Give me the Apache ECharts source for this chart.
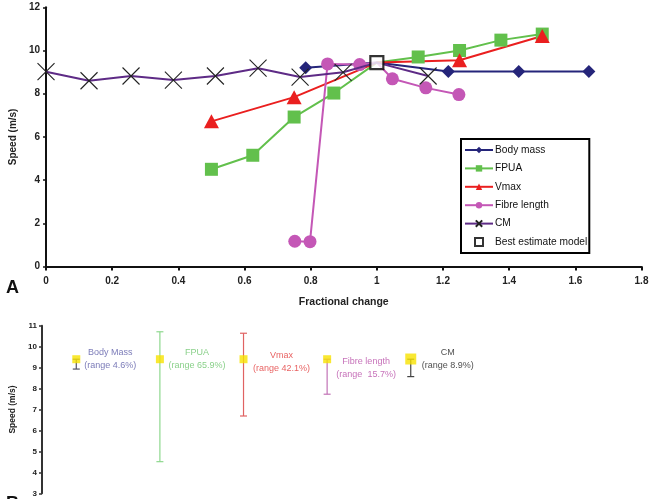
<!DOCTYPE html>
<html><head><meta charset="utf-8">
<script src="https://cdn.jsdelivr.net/npm/echarts@6/dist/echarts.min.js"></script>
<style>html,body{margin:0;padding:0;background:#fff}#c{width:654px;height:499px}</style>
</head><body><div id="c"></div>
<script>
// ---- Panel A data ----
const bodyX  = [0.785, 1.0, 1.216, 1.429, 1.641];
const bodyY  = [9.2, 9.44, 9.03, 9.03, 9.03];
const fpuaX  = [0.5, 0.625, 0.75, 0.87, 1.0, 1.125, 1.25, 1.375, 1.5];
const fpuaY  = [4.5, 5.15, 6.92, 8.03, 9.44, 9.7, 10.0, 10.48, 10.76];
const vmaxX  = [0.5, 0.75, 1.0, 1.25, 1.5];
const vmaxY  = [6.72, 7.84, 9.44, 9.55, 10.67];
const fibreX = [0.752, 0.798, 0.851, 0.948, 1.0, 1.047, 1.148, 1.248];
const fibreY = [1.17, 1.15, 9.38, 9.35, 9.44, 8.69, 8.27, 7.96];
const cmX    = [0, 0.13, 0.257, 0.385, 0.512, 0.641, 0.768, 0.898, 1.0, 1.155];
const cmY    = [9.02, 8.6, 8.82, 8.63, 8.82, 9.18, 8.77, 8.99, 9.44, 8.82];
const bestX  = [1.0];
const bestY  = [9.44];
const seriesNames = ['Body mass', 'FPUA', 'Vmax', 'Fibre length', 'CM', 'Best estimate model'];
const xTicks = [0, 1.8, 0.2];
const yTicks = [0, 12, 2];

// ---- Panel B data ----
const bPos    = [1, 2, 3, 4, 5];
const bNames  = ['Body Mass', 'FPUA', 'Vmax', 'Fibre length', 'CM'];
const bRanges = ['(range 4.6%)', '(range 65.9%)', '(range 42.1%)', '(range  15.7%)', '(range 8.9%)'];
const bMid    = [9.4, 9.4, 9.4, 9.4, 9.41];
const bLow    = [8.93, 4.51, 6.69, 7.73, 8.57];
const bHigh   = [9.4, 10.71, 10.64, 9.4, 9.4];
const bYTicks = [3, 11, 1];

const FONT = 'Liberation Sans, Arial, sans-serif';
const bestPt = [bestX[0], bestY[0]];
function mk(xs, ys) {
  return xs.map((x, i) => (x === bestPt[0] && ys[i] === bestPt[1])
    ? { value: [x, ys[i]], symbol: 'none' } : [x, ys[i]]);
}
const xPath = 'path://M0,0L10,10M10,0L0,10';
const sqPath = 'path://M0,0H10V10H0Z';

const bColors   = ['#5a5aa6', '#6cc46c', '#e23a3a', '#b84ea8', '#222222'];
const barColors = ['#555566', '#8ed88e', '#e06262', '#c273b6', '#444444'];
const bLabelOff = [[34, 0], [37, 0], [38, 2.5], [39, 9], [37, 0]];

const chart = echarts.init(document.getElementById('c'), null, { renderer: 'canvas' });
chart.setOption({
  animation: false,
  backgroundColor: '#fff',
  textStyle: { fontFamily: FONT },
  graphic: [
    { type: 'text', left: 6, top: 279, style: { text: 'A', font: 'bold 18px ' + FONT, fill: '#111' } },
    { type: 'text', left: 6, top: 495, style: { text: 'B', font: 'bold 18px ' + FONT, fill: '#111' } }
  ],
  legend: {
    data: seriesNames.map((n, i) => i === 5 ? { name: n, icon: sqPath } : { name: n }),
    orient: 'vertical',
    left: 461, top: 139,
    padding: [4, 2, 4, 3],
    borderColor: '#000', borderWidth: 2,
    itemWidth: 28, itemHeight: 8, itemGap: 4.4,
    symbolKeepAspect: true,
    textStyle: { fontSize: 10.2, lineHeight: 14, color: '#111', fontFamily: FONT, padding: [0, 0, 0, -3] },
    selectedMode: false
  },
  grid: [
    { left: 36, right: 12.5, top: 7.3, bottom: 232.5 },
    { left: 42, right: 20, top: 325.7, bottom: 5.7 }
  ],
  xAxis: [
    { gridIndex: 0, type: 'value', min: xTicks[0], max: xTicks[1], interval: xTicks[2],
      name: 'Fractional change', nameLocation: 'middle', nameGap: 30,
      nameTextStyle: { fontWeight: 'bold', fontSize: 10.5, color: '#222' },
      axisLine: { lineStyle: { color: '#111', width: 2 } },
      axisTick: { length: 4, lineStyle: { color: '#111', width: 2 } },
      axisLabel: { fontWeight: 'bold', fontSize: 10, color: '#222', margin: 10 },
      splitLine: { show: false } },
    { gridIndex: 1, type: 'value', min: 0.59, max: 7.67, show: false, splitLine: { show: false } }
  ],
  yAxis: [
    { gridIndex: 0, type: 'value', min: yTicks[0], max: yTicks[1], interval: yTicks[2],
      name: 'Speed (m/s)', nameLocation: 'middle', nameGap: 28, nameRotate: 90,
      nameTextStyle: { fontWeight: 'bold', fontSize: 10, color: '#222' },
      axisLine: { show: true, lineStyle: { color: '#111', width: 2 } },
      axisTick: { show: true, length: 3, lineStyle: { color: '#111', width: 1.5 } },
      axisLabel: { fontWeight: 'bold', fontSize: 10, color: '#222', margin: 6 },
      splitLine: { show: false } },
    { gridIndex: 1, type: 'value', min: bYTicks[0], max: bYTicks[1], interval: bYTicks[2],
      name: 'Speed (m/s)', nameLocation: 'middle', nameGap: 20, nameRotate: 90,
      nameTextStyle: { fontWeight: 'bold', fontSize: 8.5, color: '#222' },
      axisLine: { show: true, lineStyle: { color: '#333', width: 2 } },
      axisTick: { show: true, length: 3, lineStyle: { color: '#333', width: 1.5 } },
      axisLabel: { fontWeight: 'bold', fontSize: 8, color: '#222', margin: 5 },
      splitLine: { show: false } }
  ],
  series: [
    { name: seriesNames[0], type: 'line', xAxisIndex: 0, yAxisIndex: 0, data: mk(bodyX, bodyY),
      symbol: 'diamond', symbolSize: 13, itemStyle: { color: '#25257a' },
      lineStyle: { color: '#25257a', width: 2 }, z: 2 },
    { name: seriesNames[1], type: 'line', xAxisIndex: 0, yAxisIndex: 0, data: mk(fpuaX, fpuaY),
      symbol: 'rect', symbolSize: 13, itemStyle: { color: '#62c04c' },
      lineStyle: { color: '#62c04c', width: 2 }, z: 2 },
    { name: seriesNames[2], type: 'line', xAxisIndex: 0, yAxisIndex: 0, data: mk(vmaxX, vmaxY),
      symbol: 'triangle', symbolSize: [15, 14], itemStyle: { color: '#ea1f1f' },
      lineStyle: { color: '#ea1f1f', width: 2 }, z: 2 },
    { name: seriesNames[3], type: 'line', xAxisIndex: 0, yAxisIndex: 0, data: mk(fibreX, fibreY),
      symbol: 'circle', symbolSize: 13, itemStyle: { color: '#c457b6' },
      lineStyle: { color: '#c457b6', width: 2 }, z: 2 },
    { name: seriesNames[4], type: 'line', xAxisIndex: 0, yAxisIndex: 0, data: mk(cmX, cmY),
      symbol: xPath, symbolSize: 17,
      itemStyle: { color: '#222', borderColor: '#222', borderWidth: 1.1 },
      lineStyle: { color: '#5e2b86', width: 2 }, z: 3 },
    { name: seriesNames[5], type: 'scatter', xAxisIndex: 0, yAxisIndex: 0,
      data: bestX.map((x, i) => [x, bestY[i]]),
      symbol: 'rect', symbolSize: 13,
      itemStyle: { color: '#fff', borderColor: '#000', borderWidth: 2.2 }, z: 10 },
    // Panel B: error bars
    { type: 'custom', xAxisIndex: 1, yAxisIndex: 1,
      data: bPos.map((p, i) => ({ value: [p, bLow[i], bHigh[i]], itemStyle: { color: barColors[i] } })),
      renderItem: function (params, api) {
        const x = api.value(0), lo = api.value(1), hi = api.value(2);
        const a = api.coord([x, lo]), b = api.coord([x, hi]);
        const c = 3.5, col = api.visual('color');
        const st = { stroke: col, lineWidth: 1.2 };
        return { type: 'group', children: [
          { type: 'line', shape: { x1: a[0], y1: a[1], x2: b[0], y2: b[1] }, style: st },
          { type: 'line', shape: { x1: a[0] - c, y1: a[1], x2: a[0] + c, y2: a[1] }, style: st },
          { type: 'line', shape: { x1: b[0] - c, y1: b[1], x2: b[0] + c, y2: b[1] }, style: st }
        ] };
      }, z: 2 },
    { type: 'scatter', xAxisIndex: 1, yAxisIndex: 1,
      data: bPos.map((p, i) => ({
        value: [p, bMid[i]],
        symbolSize: i === 4 ? 11 : 8,
        label: { show: true, position: 'inside', offset: bLabelOff[i], align: 'center', verticalAlign: 'middle',
          formatter: bNames[i] + '\n' + bRanges[i], color: bColors[i], fontSize: 9, lineHeight: 12.7,
          fontFamily: FONT }
      })),
      symbol: 'rect', itemStyle: { color: '#f7e200' }, z: 5 }
  ]
});
</script></body></html>
